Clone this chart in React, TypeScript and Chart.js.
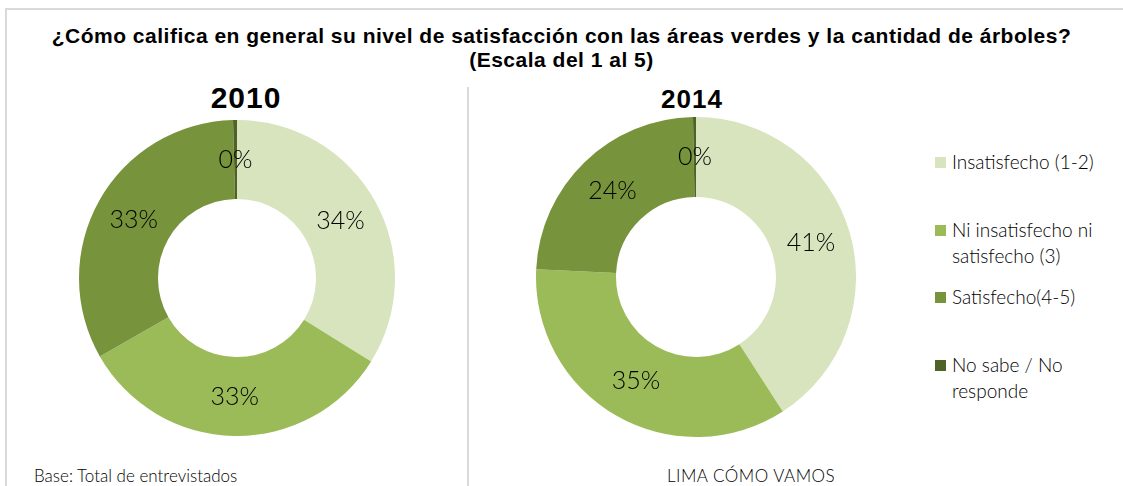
import React, { useEffect, useRef } from "react";
import { Chart, registerables } from "chart.js";

Chart.register(...registerables);

const TITLE_LINE_1 = "¿Cómo califica en general su nivel de satisfacción con las áreas verdes y la cantidad de árboles?";
const TITLE_LINE_2 = "(Escala del 1 al 5)";
const CATEGORIES = [
  "Insatisfecho (1-2)",
  "Ni insatisfecho ni satisfecho (3)",
  "Satisfecho(4-5)",
  "No sabe / No responde",
];
const LEGEND_LINES = [
  ["Insatisfecho (1-2)"],
  ["Ni insatisfecho ni", "satisfecho (3)"],
  ["Satisfecho(4-5)"],
  ["No sabe / No", "responde"],
];
const YEARS = ["2010", "2014"];
const VALUES_2010 = [34, 33, 33, 0.4];
const VALUES_2014 = [41, 35, 24, 0.3];
const COLORS = ["#d7e4bd", "#9bbb59", "#77933c", "#4f6228"];
const FOOTER_LEFT = "Base: Total de entrevistados";
const FOOTER_RIGHT = "LIMA CÓMO VAMOS";

const LABEL_FONT = "300 25px Lato, 'Open Sans', sans-serif";

function Donut(props: { values: number[]; left: number; top: number; size: number }) {
  const ref = useRef<HTMLCanvasElement | null>(null);
  useEffect(() => {
    if (!ref.current) return;
    const labelPlugin = {
      id: "pctLabels",
      afterDatasetsDraw(chart: any) {
        const ctx = chart.ctx;
        const meta = chart.getDatasetMeta(0);
        const data = chart.data.datasets[0].data as number[];
        ctx.save();
        ctx.font = LABEL_FONT;
        ctx.fillStyle = "#000000";
        ctx.textAlign = "center";
        ctx.textBaseline = "middle";
        meta.data.forEach((arc: any, i: number) => {
          const p = arc.tooltipPosition(false);
          ctx.fillText(Math.round(data[i]) + "%", p.x, p.y);
        });
        ctx.restore();
      },
    };
    const chart = new Chart(ref.current, {
      type: "doughnut",
      data: {
        labels: CATEGORIES,
        datasets: [
          {
            data: props.values,
            backgroundColor: COLORS,
            borderWidth: 0,
          },
        ],
      },
      options: {
        animation: false,
        responsive: false,
        maintainAspectRatio: false,
        devicePixelRatio: 1,
        cutout: "50%",
        layout: { padding: 0 },
        plugins: {
          legend: { display: false },
          tooltip: { enabled: false },
          title: { display: false },
        },
      },
      plugins: [labelPlugin],
    });
    return () => chart.destroy();
  }, []);
  return (
    <canvas
      ref={ref}
      width={props.size}
      height={props.size}
      style={{ position: "absolute", left: props.left, top: props.top, width: props.size, height: props.size }}
    />
  );
}

export default function App() {
  const legendCenters = [162, 230, 297, 365];
  return (
    <div
      style={{
        position: "fixed",
        left: 0,
        top: 0,
        width: 1123,
        height: 486,
        background: "#ffffff",
        overflow: "hidden",
        fontFamily: "Lato, 'Open Sans', sans-serif",
        color: "#1a1a1a",
      }}
    >
      {/* frame lines */}
      <div style={{ position: "absolute", left: 6, top: 8, width: 1117, height: 2, background: "#d9d9d9" }} />
      <div style={{ position: "absolute", left: 5, top: 8, width: 2, height: 478, background: "#d9d9d9" }} />
      <div style={{ position: "absolute", left: 467, top: 87, width: 2, height: 399, background: "#d9d9d9" }} />

      <div
        style={{
          position: "absolute",
          left: 0,
          top: 24,
          width: 1123,
          textAlign: "center",
          fontFamily: "'Liberation Sans', Arial, sans-serif",
          fontWeight: 700,
          fontSize: 21,
          lineHeight: "24px",
          letterSpacing: 0.5,
          color: "#000",
        }}
      >
        <div>{TITLE_LINE_1}</div>
        <div>{TITLE_LINE_2}</div>
      </div>

      <div
        style={{
          position: "absolute",
          left: 146,
          width: 200,
          top: 83,
          textAlign: "center",
          fontFamily: "'Liberation Sans', Arial, sans-serif",
          fontWeight: 700,
          fontSize: 30,
          lineHeight: "30px",
          letterSpacing: 1,
          color: "#000",
        }}
      >
        {YEARS[0]}
      </div>
      <div
        style={{
          position: "absolute",
          left: 592,
          width: 200,
          top: 86,
          textAlign: "center",
          fontFamily: "'Liberation Sans', Arial, sans-serif",
          fontWeight: 700,
          fontSize: 26,
          lineHeight: "26px",
          letterSpacing: 1,
          color: "#000",
        }}
      >
        {YEARS[1]}
      </div>

      <Donut values={VALUES_2010} left={79} top={120} size={316} />
      <Donut values={VALUES_2014} left={536} top={117} size={320} />

      {LEGEND_LINES.map((lines, i) => (
        <div key={i}>
          <div
            style={{
              position: "absolute",
              left: 935,
              top: legendCenters[i] - 5,
              width: 11,
              height: 11,
              background: COLORS[i],
            }}
          />
          <div
            style={{
              position: "absolute",
              left: 952,
              top: legendCenters[i] - 13,
              fontSize: 19,
              fontWeight: 300,
              lineHeight: "26px",
              color: "#000",
              whiteSpace: "nowrap",
            }}
          >
            {lines.map((l, j) => (
              <div key={j}>{l}</div>
            ))}
          </div>
        </div>
      ))}

      <div
        style={{
          position: "absolute",
          left: 34,
          top: 466,
          fontSize: 17,
          fontWeight: 300,
          lineHeight: "20px",
          color: "#000",
          whiteSpace: "nowrap",
        }}
      >
        {FOOTER_LEFT}
      </div>
      <div
        style={{
          position: "absolute",
          left: 651,
          width: 200,
          top: 466,
          textAlign: "center",
          fontSize: 17,
          fontWeight: 300,
          lineHeight: "20px",
          letterSpacing: 0.5,
          color: "#000",
          whiteSpace: "nowrap",
        }}
      >
        {FOOTER_RIGHT}
      </div>
    </div>
  );
}
